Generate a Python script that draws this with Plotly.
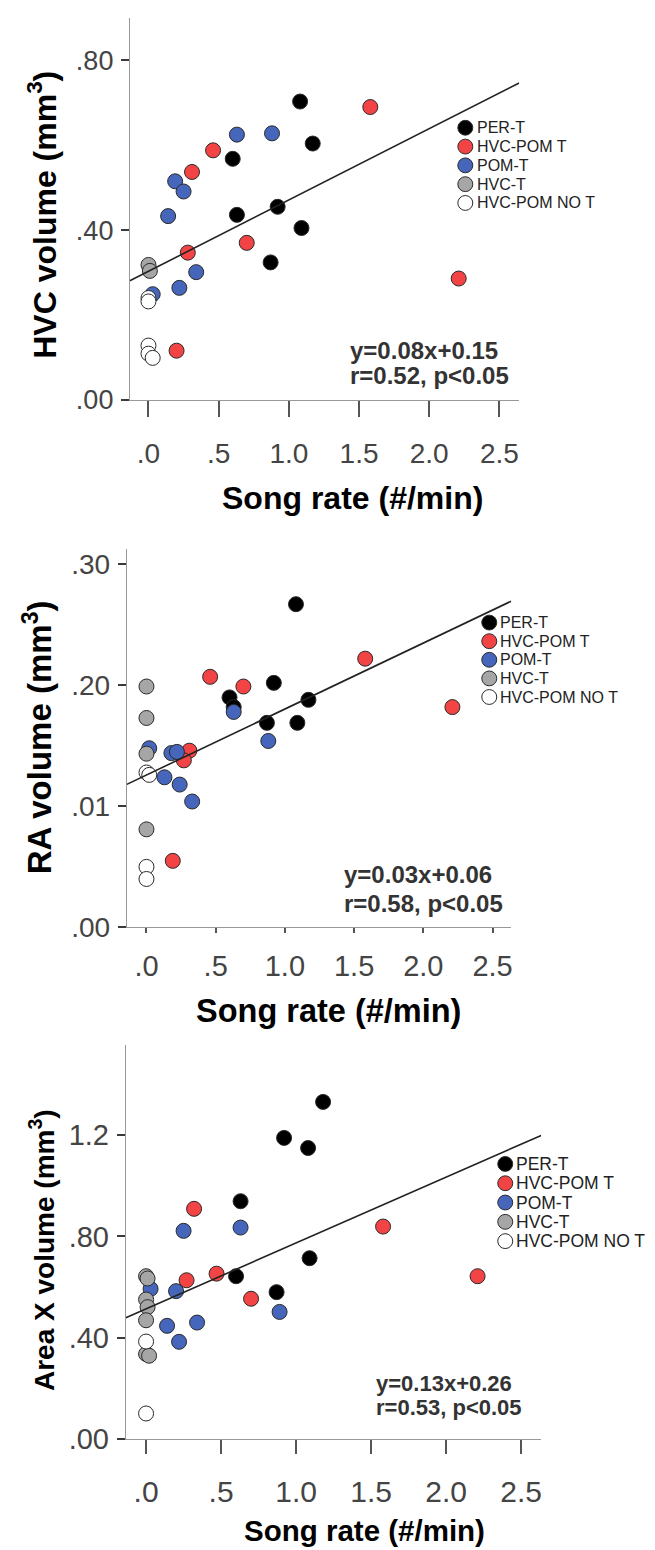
import plotly.graph_objects as go

W, H = 655, 1550

groups = ["PER-T", "HVC-POM T", "POM-T", "HVC-T", "HVC-POM NO T"]
fill_colors = ["#000000", "#f24444", "#4566bb", "#a6a6a6", "#ffffff"]

x_tick_vals = [0.0, 0.5, 1.0, 1.5, 2.0, 2.5]
x_tick_text = [".0", ".5", "1.0", "1.5", "2.0", "2.5"]

# ---- Panel 1: HVC volume ----
hvc_per_x = [1.08, 1.17, 0.60, 0.63, 0.92, 1.09, 0.87]
hvc_per_y = [0.703, 0.604, 0.568, 0.436, 0.455, 0.405, 0.324]
hvc_hvcpom_x = [1.58, 0.46, 0.31, 0.28, 0.70, 2.21, 0.20]
hvc_hvcpom_y = [0.690, 0.588, 0.537, 0.347, 0.370, 0.286, 0.116]
hvc_pom_x = [0.63, 0.88, 0.19, 0.25, 0.14, 0.34, 0.22, 0.03]
hvc_pom_y = [0.625, 0.628, 0.515, 0.491, 0.433, 0.301, 0.264, 0.249]
hvc_hvct_x = [0.0, 0.01]
hvc_hvct_y = [0.318, 0.304]
hvc_not_x = [0.0, 0.0, 0.0, 0.0, 0.03]
hvc_not_y = [0.240, 0.232, 0.128, 0.109, 0.099]
hvc_fit = (0.168, 0.303)  # slope, intercept of drawn regression line
hvc_y_ticks = [0.0, 0.4, 0.8]
hvc_y_text = [".00", ".40", ".80"]

# ---- Panel 2: RA volume ----
ra_per_x = [1.08, 0.92, 0.60, 0.63, 1.17, 0.87, 1.09]
ra_per_y = [0.267, 0.202, 0.190, 0.182, 0.188, 0.169, 0.169]
ra_hvcpom_x = [1.58, 0.46, 0.70, 2.21, 0.31, 0.27, 0.19]
ra_hvcpom_y = [0.222, 0.207, 0.199, 0.182, 0.146, 0.138, 0.055]
ra_pom_x = [0.63, 0.88, 0.02, 0.18, 0.22, 0.13, 0.24, 0.33]
ra_pom_y = [0.178, 0.154, 0.148, 0.144, 0.145, 0.124, 0.118, 0.104]
ra_hvct_x = [0.0, 0.0, 0.0, 0.0]
ra_hvct_y = [0.199, 0.173, 0.1435, 0.081]
ra_not_x = [0.0, 0.02, 0.0, 0.0]
ra_not_y = [0.128, 0.126, 0.050, 0.040]
ra_fit = (0.0545, 0.1259)
ra_y_ticks = [0.0, 0.1, 0.2, 0.3]
ra_y_text = [".00", ".01", ".20", ".30"]

# ---- Panel 3: Area X volume ----
ax_per_x = [1.18, 0.92, 1.08, 0.63, 1.09, 0.60, 0.87]
ax_per_y = [1.331, 1.189, 1.149, 0.939, 0.714, 0.643, 0.580]
ax_hvcpom_x = [0.32, 1.58, 2.21, 0.47, 0.27, 0.70]
ax_hvcpom_y = [0.909, 0.839, 0.643, 0.653, 0.627, 0.554]
ax_pom_x = [0.25, 0.63, 0.03, 0.20, 0.89, 0.14, 0.34, 0.22]
ax_pom_y = [0.822, 0.835, 0.593, 0.584, 0.502, 0.447, 0.460, 0.384]
ax_hvct_x = [0.0, 0.01, 0.0, 0.01, 0.0, 0.0, 0.02]
ax_hvct_y = [0.643, 0.634, 0.551, 0.521, 0.469, 0.336, 0.329]
ax_not_x = [0.0, 0.0]
ax_not_y = [0.385, 0.101]
ax_fit = (0.260, 0.514)
ax_y_ticks = [0.0, 0.4, 0.8, 1.2]
ax_y_text = [".00", ".40", ".80", "1.2"]

panels_data = [
    dict(xs=[hvc_per_x, hvc_hvcpom_x, hvc_pom_x, hvc_hvct_x, hvc_not_x],
         ys=[hvc_per_y, hvc_hvcpom_y, hvc_pom_y, hvc_hvct_y, hvc_not_y],
         fit=hvc_fit, yt=hvc_y_ticks, ytt=hvc_y_text,
         ytitle="HVC volume (mm<sup>3</sup>)",
         eq1="y=0.08x+0.15", eq2="r=0.52, p<0.05"),
    dict(xs=[ra_per_x, ra_hvcpom_x, ra_pom_x, ra_hvct_x, ra_not_x],
         ys=[ra_per_y, ra_hvcpom_y, ra_pom_y, ra_hvct_y, ra_not_y],
         fit=ra_fit, yt=ra_y_ticks, ytt=ra_y_text,
         ytitle="RA volume (mm<sup>3</sup>)",
         eq1="y=0.03x+0.06", eq2="r=0.58, p<0.05"),
    dict(xs=[ax_per_x, ax_hvcpom_x, ax_pom_x, ax_hvct_x, ax_not_x],
         ys=[ax_per_y, ax_hvcpom_y, ax_pom_y, ax_hvct_y, ax_not_y],
         fit=ax_fit, yt=ax_y_ticks, ytt=ax_y_text,
         ytitle="Area X volume (mm<sup>3</sup>)",
         eq1="y=0.13x+0.26", eq2="r=0.53, p<0.05"),
]

# ---- layout geometry (pixels) ----
panels_geo = [
    dict(left=122, right=512, top=10, bottom=396, xr=[-0.133, 2.641], yr=[0, 0.900],
         xticklen=16, xstand=12, tickfs=28,
         leg_x=458, leg_y0=121, leg_dy=19, leg_tx=469, legfs=16,
         eqx=341, eqy=(346, 371), eqfs=24,
         xt=(345, 495, 32), yt=(34, 209, 32)),
    dict(left=119, right=504, top=547, bottom=929, xr=[-0.142, 2.635], yr=[0, 0.3123],
         xticklen=5, xstand=8, tickfs=29,
         leg_x=482, leg_y0=621, leg_dy=18.8, leg_tx=492, legfs=16,
         eqx=335, eqy=(876, 905), eqfs=24,
         xt=(321, 1013, 32.5), yt=(30, 737, 33)),
    dict(left=118, right=534, top=1048, bottom=1446, xr=[-0.135, 2.634], yr=[0, 1.555],
         xticklen=14, xstand=12, tickfs=30,
         leg_x=498, leg_y0=1168, leg_dy=19.5, leg_tx=508, legfs=17.5,
         eqx=367, eqy=(1390, 1414), eqfs=22,
         xt=(357, 1538, 29.5), yt=(34, 1255, 28)),
]

FONT = "Liberation Sans, Arial, Helvetica, sans-serif"
MSIZE = 15

fig = go.Figure()
annotations = []
shapes = []
layout = {}

for i, (pdata, geo) in enumerate(zip(panels_data, panels_geo)):
    n = "" if i == 0 else str(i + 1)
    xa, ya = "x" + n, "y" + n
    for g, col, xv, yv in zip(groups, fill_colors, pdata["xs"], pdata["ys"]):
        fig.add_trace(go.Scatter(
            x=xv, y=yv, mode="markers", name=g, xaxis=xa, yaxis=ya,
            showlegend=False, cliponaxis=False,
            marker=dict(size=MSIZE, color=col, line=dict(color="#2a2a2a", width=1)),
        ))
    slope, icpt = pdata["fit"]
    lx = geo["xr"]
    fig.add_trace(go.Scatter(
        x=lx, y=[icpt + slope * v for v in lx], mode="lines", xaxis=xa, yaxis=ya,
        showlegend=False, line=dict(color="#222222", width=1.6), hoverinfo="skip",
    ))
    xd = [geo["left"] / W, geo["right"] / W]
    yd = [1 - geo["bottom"] / H, 1 - geo["top"] / H]
    layout["xaxis" + n] = dict(
        domain=xd, range=geo["xr"], anchor=ya, tickmode="array",
        tickvals=x_tick_vals, ticktext=x_tick_text, showgrid=False, zeroline=False,
        showline=True, linecolor="#999999", linewidth=1,
        ticks="outside", ticklen=geo["xticklen"], tickwidth=2, tickcolor="#555555",
        ticklabelstandoff=geo["xstand"],
        tickfont=dict(family=FONT, size=geo["tickfs"], color="#444444"),
    )
    layout["yaxis" + n] = dict(
        domain=yd, range=geo["yr"], anchor=xa, tickmode="array",
        tickvals=pdata["yt"], ticktext=pdata["ytt"], showgrid=False, zeroline=False,
        showline=True, linecolor="#999999", linewidth=1,
        ticks="outside", ticklen=8, tickwidth=1.5, tickcolor="#3a3a3a",
        ticklabelstandoff=2,
        tickfont=dict(family=FONT, size=geo["tickfs"] - 1, color="#444444"),
    )
    # legend key (symbols + labels)
    r = MSIZE / 2
    for k, (g, col) in enumerate(zip(groups, fill_colors)):
        cy = geo["leg_y0"] + k * geo["leg_dy"]
        cx = geo["leg_x"]
        shapes.append(dict(
            type="circle", xref="paper", yref="paper",
            x0=(cx - r) / W, x1=(cx + r) / W, y0=1 - (cy + r) / H, y1=1 - (cy - r) / H,
            fillcolor=col, line=dict(color="#2a2a2a", width=1),
        ))
        annotations.append(dict(
            text=g, x=geo["leg_tx"] / W, y=1 - cy / H, xref="paper", yref="paper",
            xanchor="left", yanchor="middle", showarrow=False, borderpad=0,
            font=dict(family=FONT, size=geo["legfs"], color="#222222"),
        ))
    for txt, ypx in zip([pdata["eq1"], pdata["eq2"]], geo["eqy"]):
        annotations.append(dict(
            text="<b>" + txt + "</b>", x=geo["eqx"] / W, y=1 - ypx / H,
            xref="paper", yref="paper", xanchor="left", yanchor="middle",
            showarrow=False, font=dict(family=FONT, size=geo["eqfs"], color="#333333"),
        ))
    tx, ty, tfs = geo["xt"]
    annotations.append(dict(
        text="<b>Song rate (#/min)</b>", x=tx / W, y=1 - ty / H,
        xref="paper", yref="paper", xanchor="center", yanchor="middle",
        showarrow=False, font=dict(family=FONT, size=tfs, color="#000000"),
    ))
    yx, yy, yfs = geo["yt"]
    annotations.append(dict(
        text="<b>" + pdata["ytitle"] + "</b>", x=yx / W, y=1 - yy / H,
        xref="paper", yref="paper", xanchor="center", yanchor="middle",
        textangle=-90, showarrow=False,
        font=dict(family=FONT, size=yfs, color="#000000"),
    ))

fig.update_layout(
    width=W, height=H, margin=dict(l=0, r=0, t=0, b=0),
    paper_bgcolor="white", plot_bgcolor="white", showlegend=False,
    annotations=annotations, shapes=shapes, **layout,
)

fig.write_html("out.html")
